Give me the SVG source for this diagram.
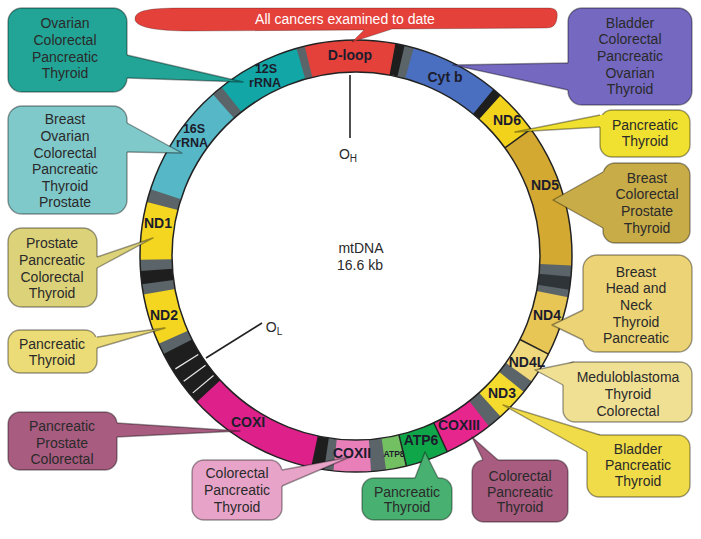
<svg xmlns="http://www.w3.org/2000/svg" width="701" height="539" viewBox="0 0 701 539">
<style>
.s{fill:none;stroke-width:32}
.bx{stroke:#000;stroke-opacity:.38;stroke-width:1.4}
.pl{fill:none;stroke:#000;stroke-opacity:.38;stroke-width:1.4;stroke-linejoin:round}
.t{font-family:"Liberation Sans",Arial,sans-serif;font-size:14px;fill:#2a2a2a;text-anchor:middle}
.lb{font-family:"Liberation Sans",Arial,sans-serif;font-size:14px;font-weight:bold;fill:#1c1c2c;text-anchor:middle}
.sm{font-size:12.5px}
.dv{stroke:#222;stroke-width:1.5}
.wl{stroke:#e8e8e8;stroke-width:1.2}
</style>
<rect width="701" height="539" fill="#fff"/>
<g id="ring">
<circle class="s" cx="356" cy="256" r="200" pathLength="360" stroke="#e5413b" stroke-dasharray="24.8 400" transform="rotate(256 356 256)"/>
<circle class="s" cx="356" cy="256" r="200" pathLength="360" stroke="#1e1e1e" stroke-dasharray="2.8 400" transform="rotate(-79.5 356 256)"/>
<circle class="s" cx="356" cy="256" r="200" pathLength="360" stroke="#5b6468" stroke-dasharray="2.8 400" transform="rotate(-77 356 256)"/>
<circle class="s" cx="356" cy="256" r="200" pathLength="360" stroke="#4a6fc0" stroke-dasharray="24.3 400" transform="rotate(-74.5 356 256)"/>
<circle class="s" cx="356" cy="256" r="200" pathLength="360" stroke="#1e1e1e" stroke-dasharray="2.8 400" transform="rotate(-50.5 356 256)"/>
<circle class="s" cx="356" cy="256" r="200" pathLength="360" stroke="#f3d21c" stroke-dasharray="12.3 400" transform="rotate(-48 356 256)"/>
<circle class="s" cx="356" cy="256" r="200" pathLength="360" stroke="#d3a932" stroke-dasharray="38.8 400" transform="rotate(-36 356 256)"/>
<circle class="s" cx="356" cy="256" r="200" pathLength="360" stroke="#5b6468" stroke-dasharray="3.3 400" transform="rotate(2.5 356 256)"/>
<circle class="s" cx="356" cy="256" r="200" pathLength="360" stroke="#2e3438" stroke-dasharray="3.8 400" transform="rotate(5.5 356 256)"/>
<circle class="s" cx="356" cy="256" r="200" pathLength="360" stroke="#5b6468" stroke-dasharray="2.3 400" transform="rotate(9 356 256)"/>
<circle class="s" cx="356" cy="256" r="200" pathLength="360" stroke="#e8c656" stroke-dasharray="16.3 400" transform="rotate(11 356 256)"/>
<circle class="s" cx="356" cy="256" r="200" pathLength="360" stroke="#efd97c" stroke-dasharray="8.8 400" transform="rotate(27 356 256)"/>
<circle class="s" cx="356" cy="256" r="200" pathLength="360" stroke="#5b6468" stroke-dasharray="3.8 400" transform="rotate(35.5 356 256)"/>
<circle class="s" cx="356" cy="256" r="200" pathLength="360" stroke="#f5db2e" stroke-dasharray="9.3 400" transform="rotate(39 356 256)"/>
<circle class="s" cx="356" cy="256" r="200" pathLength="360" stroke="#5b6468" stroke-dasharray="4.3 400" transform="rotate(48 356 256)"/>
<circle class="s" cx="356" cy="256" r="200" pathLength="360" stroke="#e6268d" stroke-dasharray="13.3 400" transform="rotate(52 356 256)"/>
<circle class="s" cx="356" cy="256" r="200" pathLength="360" stroke="#0fa64a" stroke-dasharray="11.8 400" transform="rotate(65 356 256)"/>
<circle class="s" cx="356" cy="256" r="200" pathLength="360" stroke="#72c062" stroke-dasharray="5.8 400" transform="rotate(76.5 356 256)"/>
<circle class="s" cx="356" cy="256" r="200" pathLength="360" stroke="#5b6468" stroke-dasharray="4.3 400" transform="rotate(82 356 256)"/>
<circle class="s" cx="356" cy="256" r="200" pathLength="360" stroke="#e87fb8" stroke-dasharray="10.3 400" transform="rotate(86 356 256)"/>
<circle class="s" cx="356" cy="256" r="200" pathLength="360" stroke="#5b6468" stroke-dasharray="2.8 400" transform="rotate(96 356 256)"/>
<circle class="s" cx="356" cy="256" r="200" pathLength="360" stroke="#1e1e1e" stroke-dasharray="3.8 400" transform="rotate(98.5 356 256)"/>
<circle class="s" cx="356" cy="256" r="200" pathLength="360" stroke="#de218a" stroke-dasharray="35.8 400" transform="rotate(102 356 256)"/>
<circle class="s" cx="356" cy="256" r="200" pathLength="360" stroke="#1e1e1e" stroke-dasharray="15.8 400" transform="rotate(137.5 356 256)"/>
<circle class="s" cx="356" cy="256" r="200" pathLength="360" stroke="#5b6468" stroke-dasharray="3.3 400" transform="rotate(153 356 256)"/>
<circle class="s" cx="356" cy="256" r="200" pathLength="360" stroke="#f4d620" stroke-dasharray="14 400" transform="rotate(156 356 256)"/>
<circle class="s" cx="356" cy="256" r="200" pathLength="360" stroke="#5b6468" stroke-dasharray="3.1 400" transform="rotate(169.7 356 256)"/>
<circle class="s" cx="356" cy="256" r="200" pathLength="360" stroke="#1e1e1e" stroke-dasharray="3.8 400" transform="rotate(172.5 356 256)"/>
<circle class="s" cx="356" cy="256" r="200" pathLength="360" stroke="#5b6468" stroke-dasharray="3.3 400" transform="rotate(176 356 256)"/>
<circle class="s" cx="356" cy="256" r="200" pathLength="360" stroke="#f4d620" stroke-dasharray="15.8 400" transform="rotate(179 356 256)"/>
<circle class="s" cx="356" cy="256" r="200" pathLength="360" stroke="#5b6468" stroke-dasharray="3.8 400" transform="rotate(194.5 356 256)"/>
<circle class="s" cx="356" cy="256" r="200" pathLength="360" stroke="#56b7c6" stroke-dasharray="30.8 400" transform="rotate(198 356 256)"/>
<circle class="s" cx="356" cy="256" r="200" pathLength="360" stroke="#5b6468" stroke-dasharray="3.3 400" transform="rotate(228.5 356 256)"/>
<circle class="s" cx="356" cy="256" r="200" pathLength="360" stroke="#12a7a6" stroke-dasharray="22.8 400" transform="rotate(231.5 356 256)"/>
<circle class="s" cx="356" cy="256" r="200" pathLength="360" stroke="#5b6468" stroke-dasharray="2.3 400" transform="rotate(254 356 256)"/>
<line class="dv" x1="356" y1="40" x2="356" y2="72" transform="rotate(54 356 256)"/>
<line class="dv" x1="356" y1="40" x2="356" y2="72" transform="rotate(117 356 256)"/>
<line class="dv" x1="356" y1="40" x2="356" y2="72" transform="rotate(155 356 256)"/>
<line class="dv" x1="356" y1="40" x2="356" y2="72" transform="rotate(166.5 356 256)"/>
<line class="wl" x1="356" y1="43" x2="356" y2="70" transform="rotate(230 356 256)"/>
<line class="wl" x1="356" y1="43" x2="356" y2="70" transform="rotate(234 356 256)"/>
<line class="wl" x1="356" y1="43" x2="356" y2="70" transform="rotate(238 356 256)"/>
<circle cx="356" cy="256" r="216" fill="none" stroke="#222" stroke-width="1.5"/>
<circle cx="356" cy="256" r="184" fill="none" stroke="#222" stroke-width="1.5"/>
</g>
<g id="center">
<text class="t" x="361" y="253">mtDNA</text>
<text class="t" x="360" y="270">16.6 kb</text>
<line x1="350" y1="75" x2="350" y2="138" stroke="#222" stroke-width="1.6"/>
<text class="t" x="348" y="159">O<tspan font-size="10" dy="3">H</tspan></text>
<line x1="262" y1="323" x2="206" y2="358" stroke="#222" stroke-width="1.6"/>
<text class="t" x="274" y="332">O<tspan font-size="10" dy="3">L</tspan></text>
</g>
<g id="banner">
<path d="M135 19 C135 10 150 8 185 8 L548 8 C556 8 558 11 557 18 C556 25 553 28 546 28 L392 29 L352 42 L364 30 L190 31 C155 31 135 27 135 19 Z" fill="#e5413b" stroke="#000" stroke-opacity=".25" stroke-width="1"/>
<text class="t" x="345" y="24" style="fill:#fff">All cancers examined to date</text>
</g>
<g id="c-12s"><rect class="bx" x="8" y="8" width="119" height="84" rx="14" fill="#22a596"/>
<text class="t" x="65" y="28">Ovarian</text><text class="t" x="65" y="45">Colorectal</text><text class="t" x="65" y="62">Pancreatic</text><text class="t" x="65" y="78">Thyroid</text></g>
<g id="c-16s"><rect class="bx" x="8" y="106" width="119" height="108" rx="14" fill="#80c9ca"/>
<text class="t" x="65" y="124">Breast</text><text class="t" x="65" y="141">Ovarian</text><text class="t" x="65" y="158">Colorectal</text><text class="t" x="65" y="174">Pancreatic</text><text class="t" x="65" y="191">Thyroid</text><text class="t" x="65" y="207">Prostate</text></g>
<g id="c-nd1"><rect class="bx" x="8" y="228" width="89" height="79" rx="14" fill="#dcd27a"/>
<text class="t" x="52" y="248">Prostate</text><text class="t" x="52" y="265">Pancreatic</text><text class="t" x="52" y="282">Colorectal</text><text class="t" x="52" y="298">Thyroid</text></g>
<g id="c-nd2"><rect class="bx" x="8" y="330" width="89" height="43" rx="12" fill="#ecdc78"/>
<text class="t" x="52" y="349">Pancreatic</text><text class="t" x="52" y="365">Thyroid</text></g>
<g id="c-coxi"><rect class="bx" x="8" y="412" width="109" height="58" rx="12" fill="#a85c80"/>
<text class="t" x="62" y="431">Pancreatic</text><text class="t" x="62" y="448">Prostate</text><text class="t" x="62" y="464">Colorectal</text></g>
<g id="c-coxii"><rect class="bx" x="192" y="460" width="90" height="60" rx="12" fill="#e8a4c8"/>
<text class="t" x="237" y="478">Colorectal</text><text class="t" x="237" y="495">Pancreatic</text><text class="t" x="237" y="512">Thyroid</text></g>
<g id="c-atp6"><rect class="bx" x="362" y="478" width="90" height="42" rx="12" fill="#48b070"/>
<text class="t" x="407" y="497">Pancreatic</text><text class="t" x="407" y="512">Thyroid</text></g>
<g id="c-coxiii"><rect class="bx" x="472" y="460" width="96" height="62" rx="12" fill="#a85c80"/>
<text class="t" x="520" y="481">Colorectal</text><text class="t" x="520" y="497">Pancreatic</text><text class="t" x="520" y="512">Thyroid</text></g>
<g id="c-nd3"><rect class="bx" x="587" y="435" width="103" height="62" rx="12" fill="#f0dc48"/>
<text class="t" x="638" y="454">Bladder</text><text class="t" x="638" y="470">Pancreatic</text><text class="t" x="638" y="486">Thyroid</text></g>
<g id="c-nd4l"><rect class="bx" x="563" y="362" width="129" height="60" rx="12" fill="#f0e094"/>
<text class="t" x="628" y="382">Meduloblastoma</text><text class="t" x="628" y="399">Thyroid</text><text class="t" x="628" y="416">Colorectal</text></g>
<g id="c-nd4"><rect class="bx" x="583" y="255" width="109" height="97" rx="14" fill="#ecd476"/>
<text class="t" x="636" y="277">Breast</text><text class="t" x="636" y="293">Head and</text><text class="t" x="636" y="310">Neck</text><text class="t" x="636" y="327">Thyroid</text><text class="t" x="636" y="343">Pancreatic</text></g>
<g id="c-nd5"><rect class="bx" x="603" y="163" width="87" height="80" rx="12" fill="#c8ac48"/>
<text class="t" x="647" y="183">Breast</text><text class="t" x="647" y="199">Colorectal</text><text class="t" x="647" y="216">Prostate</text><text class="t" x="647" y="233">Thyroid</text></g>
<g id="c-nd6"><rect class="bx" x="600" y="110" width="90" height="47" rx="12" fill="#f0e030"/>
<text class="t" x="645" y="130">Pancreatic</text><text class="t" x="645" y="146">Thyroid</text></g>
<g id="c-cytb"><rect class="bx" x="568" y="8" width="124" height="97" rx="14" fill="#7468c0"/>
<text class="t" x="630" y="28">Bladder</text><text class="t" x="630" y="44">Colorectal</text><text class="t" x="630" y="61">Pancreatic</text><text class="t" x="630" y="78">Ovarian</text><text class="t" x="630" y="94">Thyroid</text></g>
<g id="connectors">
<polygon points="121,55 127,55 243,82 127,78 121,78" fill="#22a596"/><polyline class="pl" points="127,55 243,82 127,78"/>
<polygon points="121,123 127,123 182,153 127,152 121,152" fill="#80c9ca"/><polyline class="pl" points="127,123 182,153 127,152"/>
<polygon points="91,257 97,257 153,238 97,268 91,268" fill="#dcd27a"/><polyline class="pl" points="97,257 153,238 97,268"/>
<polygon points="91,337 97,337 165,328 97,348 91,348" fill="#ecdc78"/><polyline class="pl" points="97,337 165,328 97,348"/>
<polygon points="111,423 117,423 240,431 117,437 111,437" fill="#a85c80"/><polyline class="pl" points="117,423 240,431 117,437"/>
<polygon points="276,470 282,470 350,457 282,486 276,486" fill="#e8a4c8"/><polyline class="pl" points="282,470 350,457 282,486"/>
<polygon points="415,484 415,478 425,452 438,478 438,484" fill="#48b070"/><polyline class="pl" points="415,478 425,452 438,478"/>
<polygon points="483,466 483,460 472,437 498,460 498,466" fill="#a85c80"/><polyline class="pl" points="483,460 472,437 498,460"/>
<polygon points="600,441 600,435 503,405 587,452 600,452" fill="#f0dc48"/><polyline class="pl" points="600,435 503,405 587,452"/>
<polygon points="574,368 574,362 535,370 563,385 574,385" fill="#f0e094"/><polyline class="pl" points="574,362 535,370 563,385"/>
<polygon points="589,310 583,310 552,325 583,340 589,340" fill="#ecd476"/><polyline class="pl" points="583,310 552,325 583,340"/>
<polygon points="609,172 603,172 553,200 603,228 609,228" fill="#c8ac48"/><polyline class="pl" points="603,172 553,200 603,228"/>
<polygon points="606,115 600,115 515,132 600,127 606,127" fill="#f0e030"/><polyline class="pl" points="600,115 515,132 600,127"/>
<polygon points="574,63 568,63 453,65 568,90 574,90" fill="#7468c0"/><polyline class="pl" points="568,63 453,65 568,90"/>
</g>
<g id="labels">
<text class="lb" x="350" y="60">D-loop</text>
<text class="lb" x="445" y="82">Cyt b</text>
<text class="lb" x="507" y="125">ND6</text>
<text class="lb" x="545" y="190">ND5</text>
<text class="lb" x="547" y="320">ND4</text>
<text class="lb" x="527" y="367">ND4L</text>
<text class="lb" x="502" y="398">ND3</text>
<text class="lb" x="459" y="430">COXIII</text>
<text class="lb" x="421" y="445">ATP6</text>
<text class="lb" x="394" y="457" style="font-size:8.5px">ATP8</text>
<text class="lb" x="352" y="458">COXII</text>
<text class="lb" x="248" y="427">COXI</text>
<text class="lb" x="164" y="320">ND2</text>
<text class="lb" x="158" y="228">ND1</text>
<text class="lb sm" x="194" y="133">16S</text>
<text class="lb sm" x="192" y="147">rRNA</text>
<text class="lb sm" x="266" y="73">12S</text>
<text class="lb sm" x="265" y="87">rRNA</text>
</g>
</svg>
